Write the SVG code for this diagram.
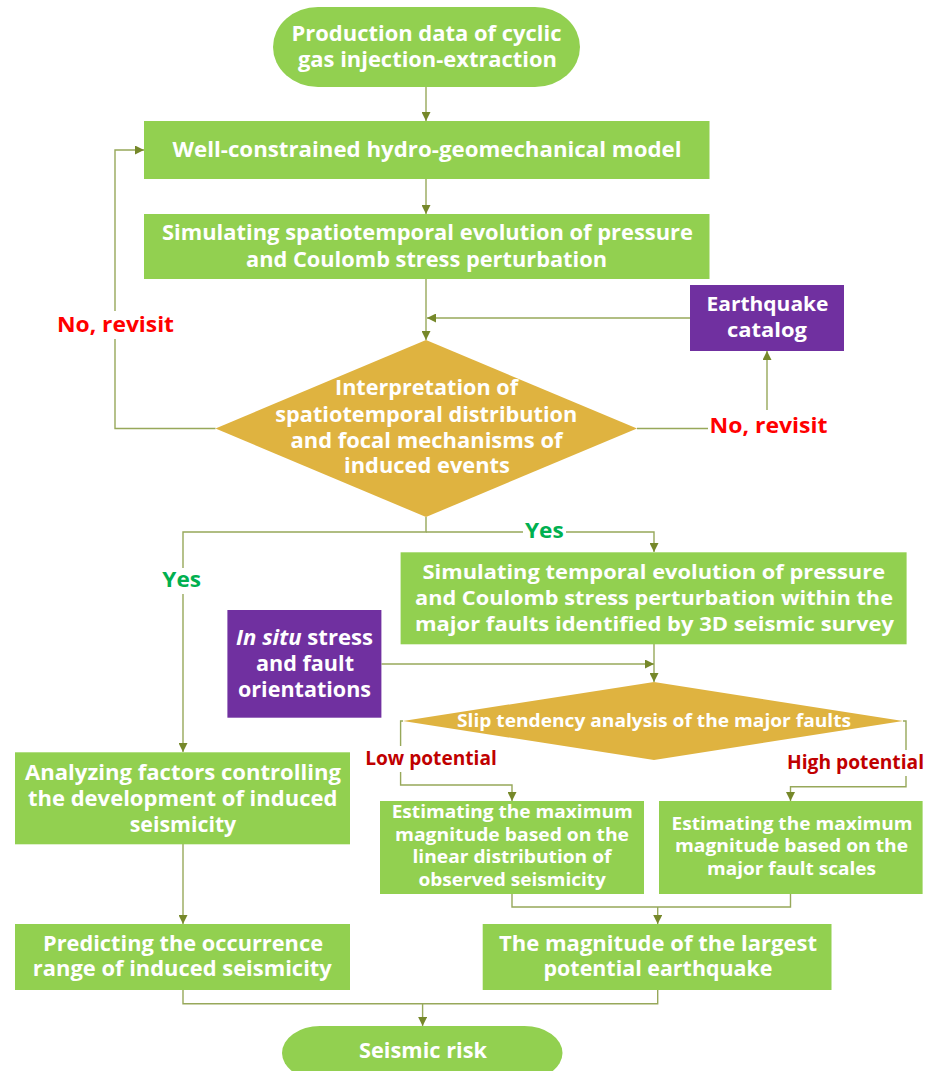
<svg xmlns="http://www.w3.org/2000/svg" width="932" height="1071" viewBox="0 0 932 1071">
<defs>
<style>
.g{fill:#92D050}
.d{fill:#DFB340}
.p{fill:#7030A0}
.t{font-family:"Open Sans","Liberation Sans",sans-serif;font-weight:bold;fill:#fff;text-anchor:middle}
.m{font-size:21px}
.m2{font-size:20.3px}
.m3{font-size:20px}
.s{font-size:19px}
.e{font-size:18px}
.xs{font-size:17.5px}
.c{fill:none;stroke:#97A85A;stroke-width:1.4}
.a{marker-end:url(#ah)}
.red{fill:#FF0000}
.dred{fill:#C00000}
.yes{fill:#00B050}
.bg{fill:#fff}
</style>
<marker id="ah" markerUnits="userSpaceOnUse" markerWidth="9" markerHeight="9" viewBox="0 0 8 8" refX="8" refY="4" orient="auto">
<path d="M0,0 L8,4 L0,8 z" fill="#76882A"/>
</marker>
</defs>
<rect width="932" height="1071" fill="#fff"/>

<g id="connectors">
<path class="c a" d="M426,87 V121"/>
<path class="c a" d="M426,179 V214"/>
<path class="c a" d="M426,279 V340"/>
<path class="c a" d="M690,318 H427"/>
<path class="c a" d="M215.5,428.5 H115 V150 H144"/>
<path class="c a" d="M637,428.5 H767 V351"/>
<path class="c a" d="M426,517 V532 H183 V752"/>
<path class="c a" d="M426,532 H654 V552"/>
<path class="c a" d="M654,644 V682"/>
<path class="c a" d="M381.5,664 H654"/>
<path class="c a" d="M403,721 H400.6 V785 H512 V801"/>
<path class="c a" d="M903,721 H906 V786.7 H790.5 V801"/>
<path class="c a" d="M183,844 V924"/>
<path class="c" d="M512,894 V907 H790.5 V894"/>
<path class="c a" d="M657.7,907 V924"/>
<path class="c" d="M183,990 V1003.7 H657.7 V990"/>
<path class="c a" d="M422.6,1003.7 V1026"/>
</g>

<g id="labels">
<rect class="bg" x="55" y="311" width="121" height="28"/>
<text class="t m red" x="115.5" y="331.5" textLength="117" lengthAdjust="spacingAndGlyphs">No, revisit</text>
<rect class="bg" x="708" y="410" width="122" height="30"/>
<text class="t m red" x="768.5" y="433.3" textLength="118" lengthAdjust="spacingAndGlyphs">No, revisit</text>
<rect class="bg" x="523" y="520" width="43" height="24"/>
<text class="t m yes" x="544.3" y="538" textLength="38.7" lengthAdjust="spacingAndGlyphs">Yes</text>
<rect class="bg" x="160" y="568" width="44" height="26"/>
<text class="t m yes" x="181.7" y="586.7" textLength="38.7" lengthAdjust="spacingAndGlyphs">Yes</text>
<rect class="bg" x="363" y="746" width="136" height="26"/>
<text class="t s dred" x="431" y="765" textLength="131.5" lengthAdjust="spacingAndGlyphs">Low potential</text>
<rect class="bg" x="785" y="750" width="142" height="26"/>
<text class="t s dred" x="855.5" y="769" textLength="137" lengthAdjust="spacingAndGlyphs">High potential</text>
</g>

<g id="n-start">
<rect class="g" x="273" y="7" width="307" height="80" rx="45" ry="40"/>
<text class="t m" x="426.5" y="41" textLength="270" lengthAdjust="spacingAndGlyphs">Production data of cyclic</text>
<text class="t m" x="427.5" y="66.5" textLength="259" lengthAdjust="spacingAndGlyphs">gas injection-extraction</text>
</g>

<g id="n-model">
<rect class="g" x="144" y="121" width="565.5" height="58"/>
<text class="t m" x="427" y="157" textLength="509" lengthAdjust="spacingAndGlyphs">Well-constrained hydro-geomechanical model</text>
</g>

<g id="n-sim1">
<rect class="g" x="144" y="214" width="565.5" height="65"/>
<text class="t m" x="427.5" y="240" textLength="531" lengthAdjust="spacingAndGlyphs">Simulating spatiotemporal evolution of pressure</text>
<text class="t m" x="426.5" y="266.5" textLength="361" lengthAdjust="spacingAndGlyphs">and Coulomb stress perturbation</text>
</g>

<g id="n-catalog">
<rect class="p" x="690" y="285" width="154" height="66"/>
<text class="t m3" x="767.5" y="310.5" textLength="122" lengthAdjust="spacingAndGlyphs">Earthquake</text>
<text class="t m3" x="767" y="337" textLength="80" lengthAdjust="spacingAndGlyphs">catalog</text>
</g>

<g id="n-interp">
<polygon class="d" points="426,340 637,428.5 426,517 215.5,428.5"/>
<text class="t m" x="426.5" y="395" textLength="183" lengthAdjust="spacingAndGlyphs">Interpretation of</text>
<text class="t m" x="426.3" y="421.5" textLength="302" lengthAdjust="spacingAndGlyphs">spatiotemporal distribution</text>
<text class="t m" x="426.5" y="447.5" textLength="272" lengthAdjust="spacingAndGlyphs">and focal mechanisms of</text>
<text class="t m" x="427" y="473" textLength="166" lengthAdjust="spacingAndGlyphs">induced events</text>
</g>

<g id="n-sim2">
<rect class="g" x="400.6" y="552.3" width="506" height="92"/>
<text class="t m2" x="653.8" y="579.3" textLength="462.5" lengthAdjust="spacingAndGlyphs">Simulating temporal evolution of pressure</text>
<text class="t m2" x="654" y="605" textLength="478" lengthAdjust="spacingAndGlyphs">and Coulomb stress perturbation within the</text>
<text class="t m2" x="654.5" y="630.5" textLength="479" lengthAdjust="spacingAndGlyphs">major faults identified by 3D seismic survey</text>
</g>

<g id="n-insitu">
<rect class="p" x="227.4" y="610" width="154" height="107.7"/>
<text class="t m" x="304.5" y="645" textLength="137" lengthAdjust="spacingAndGlyphs"><tspan font-style="italic">In situ</tspan> stress</text>
<text class="t m" x="305" y="670.7" textLength="98" lengthAdjust="spacingAndGlyphs">and fault</text>
<text class="t m" x="304.5" y="696.7" textLength="133" lengthAdjust="spacingAndGlyphs">orientations</text>
</g>

<g id="n-slip">
<polygon class="d" points="654,682 903,721 654,760 403,721"/>
<text class="t xs" x="654" y="726.7" textLength="394" lengthAdjust="spacingAndGlyphs">Slip tendency analysis of the major faults</text>
</g>

<g id="n-analyzing">
<rect class="g" x="15" y="752.3" width="335" height="92"/>
<text class="t m" x="183" y="780" textLength="316" lengthAdjust="spacingAndGlyphs">Analyzing factors controlling</text>
<text class="t m" x="182.7" y="805.7" textLength="309.5" lengthAdjust="spacingAndGlyphs">the development of induced</text>
<text class="t m" x="183" y="831.7" textLength="106.5" lengthAdjust="spacingAndGlyphs">seismicity</text>
</g>

<g id="n-estA">
<rect class="g" x="380" y="801" width="264" height="93"/>
<text class="t e" x="512.2" y="818.3" textLength="241" lengthAdjust="spacingAndGlyphs">Estimating the maximum</text>
<text class="t e" x="512" y="840.7" textLength="234" lengthAdjust="spacingAndGlyphs">magnitude based on the</text>
<text class="t e" x="512" y="863.3" textLength="199" lengthAdjust="spacingAndGlyphs">linear distribution of</text>
<text class="t e" x="512.2" y="886" textLength="187.5" lengthAdjust="spacingAndGlyphs">observed seismicity</text>
</g>

<g id="n-estB">
<rect class="g" x="659" y="801" width="263.6" height="93"/>
<text class="t e" x="792" y="830" textLength="241" lengthAdjust="spacingAndGlyphs">Estimating the maximum</text>
<text class="t e" x="791.5" y="852.3" textLength="233" lengthAdjust="spacingAndGlyphs">magnitude based on the</text>
<text class="t e" x="791.5" y="875" textLength="169" lengthAdjust="spacingAndGlyphs">major fault scales</text>
</g>

<g id="n-predict">
<rect class="g" x="15" y="924" width="335" height="66"/>
<text class="t m" x="183" y="950.7" textLength="280" lengthAdjust="spacingAndGlyphs">Predicting the occurrence</text>
<text class="t m" x="182.3" y="976" textLength="299" lengthAdjust="spacingAndGlyphs">range of induced seismicity</text>
</g>

<g id="n-magnitude">
<rect class="g" x="482.7" y="924" width="348.8" height="66"/>
<text class="t m" x="658" y="950.7" textLength="318" lengthAdjust="spacingAndGlyphs">The magnitude of the largest</text>
<text class="t m" x="658" y="976" textLength="229" lengthAdjust="spacingAndGlyphs">potential earthquake</text>
</g>

<g id="n-risk">
<rect class="g" x="282" y="1026" width="280.5" height="54" rx="38" ry="27"/>
<text class="t m" x="423" y="1058.3" textLength="128" lengthAdjust="spacingAndGlyphs">Seismic risk</text>
</g>
</svg>
